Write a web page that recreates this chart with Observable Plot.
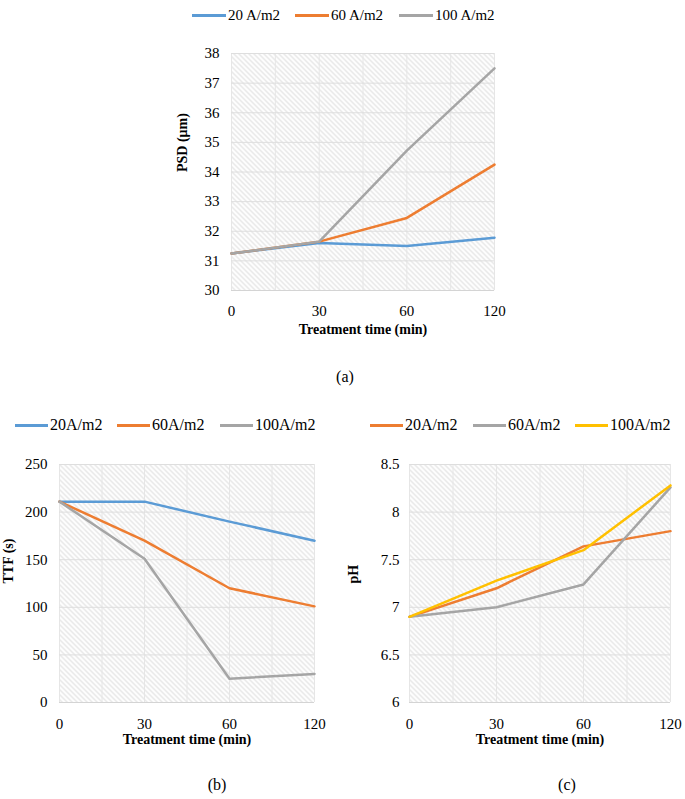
<!DOCTYPE html>
<html><head><meta charset="utf-8">
<script src="https://cdn.jsdelivr.net/npm/d3@7"></script>
<script src="https://cdn.jsdelivr.net/npm/@observablehq/plot@0.6"></script>
<style>
body{margin:0;background:#fff;}
#root{position:relative;width:685px;height:799px;font-family:"Liberation Serif","Times New Roman",serif;color:#000;overflow:hidden;}
.sw{position:absolute;height:3px;width:34px;}
.lt{position:absolute;line-height:16px;white-space:nowrap;}
.cap{position:absolute;font-size:16px;line-height:18px;transform:translateX(-50%);white-space:nowrap;}
</style></head><body><div id="root"></div>
<script>
// ---- data ----
const times = ["0", "30", "60", "120"];

const psdSeries = ["20 A/m2", "60 A/m2", "100 A/m2"];
const psd20 = [31.25, 31.6, 31.5, 31.78];
const psd60 = [31.25, 31.65, 32.45, 34.25];
const psd100 = [31.25, 31.65, 34.72, 37.5];
const psdTicks = [30, 31, 32, 33, 34, 35, 36, 37, 38];

const ttfSeries = ["20A/m2", "60A/m2", "100A/m2"];
const ttf20 = [211, 211, 190, 170];
const ttf60 = [211, 170, 120, 101];
const ttf100 = [211, 151, 25, 30];
const ttfTicks = [0, 50, 100, 150, 200, 250];

const phSeries = ["20A/m2", "60A/m2", "100A/m2"];
const ph20 = [6.9, 7.2, 7.64, 7.8];
const ph60 = [6.9, 7.0, 7.24, 8.26];
const ph100 = [6.9, 7.28, 7.6, 8.28];
const phTicks = [6, 6.5, 7, 7.5, 8, 8.5];

const colorsA = ["#5b9bd5", "#ed7d31", "#a5a5a5"];
const colorsB = ["#5b9bd5", "#ed7d31", "#a5a5a5"];
const colorsC = ["#ed7d31", "#a5a5a5", "#ffc000"];

const root = document.getElementById("root");

function rowsOf(series, arrays) {
  const rows = [];
  series.forEach((s, k) => arrays[k].forEach((v, i) => rows.push({s, i, v})));
  return rows;
}

function panel(cfg) {
  const rows = rowsOf(cfg.series, cfg.values);
  const gridXs = d3.range(0, 3.01, 0.5);
  const svg = Plot.plot({
    width: cfg.width, height: cfg.height,
    marginLeft: cfg.ml, marginRight: cfg.mr, marginTop: cfg.mt, marginBottom: cfg.mb,
    style: {fontFamily: '"Liberation Serif","Times New Roman",serif', fontSize: "15px", background: "transparent", overflow: "visible", color: "#000"},
    x: {domain: [0, 3]},
    y: {domain: cfg.yDomain},
    color: {domain: cfg.series, range: cfg.colors},
    marks: [
      Plot.frame({fill: "url(#hatch)", stroke: null}),
      Plot.gridX(gridXs, {stroke: "#e6e6e6", strokeOpacity: 1}),
      Plot.gridY(cfg.yTicks, {stroke: "#dedede", strokeOpacity: 1}),
      Plot.ruleY([cfg.yDomain[0]], {stroke: "#d4d4d4", strokeWidth: 1}),
      Plot.axisY(cfg.yTicks, {tickSize: 0, tickPadding: cfg.yPad, tickFormat: cfg.yFormat, label: null, fill: "#000"}),
      Plot.axisX([0, 1, 2, 3], {tickSize: 0, tickPadding: cfg.xPad, tickFormat: i => times[i], label: null, fill: "#000"}),
      Plot.text([cfg.xTitle], {frameAnchor: "bottom", dy: cfg.xTitleDy, fontWeight: "bold", fontSize: 14, fill: "#000"}),
      Plot.text([cfg.yTitle], {frameAnchor: "left", dx: -cfg.yTitleDx, rotate: -90, fontWeight: "bold", fontSize: 14, fill: "#000"}),
      Plot.line(rows, {x: "i", y: "v", z: "s", stroke: "s", strokeWidth: 2.5, strokeLinejoin: "round", strokeLinecap: "round"})
    ]
  });
  svg.style.position = "absolute";
  svg.style.left = cfg.left + "px";
  svg.style.top = cfg.top + "px";
  root.appendChild(svg);
  return svg;
}

function legend(items, fontSize) {
  items.forEach(it => {
    const sw = document.createElement("div");
    sw.className = "sw";
    sw.style.left = it.x + "px";
    sw.style.top = (it.y - 1.5) + "px";
    sw.style.width = it.w + "px";
    sw.style.background = it.color;
    root.appendChild(sw);
    const t = document.createElement("div");
    t.className = "lt";
    t.style.fontSize = fontSize + "px";
    t.style.left = (it.x + it.w + 2) + "px";
    t.style.top = (it.y - 8) + "px";
    t.textContent = it.label;
    root.appendChild(t);
  });
}

function caption(text, x, y) {
  const c = document.createElement("div");
  c.className = "cap";
  c.style.left = x + "px";
  c.style.top = (y - 9) + "px";
  c.textContent = text;
  root.appendChild(c);
}

// panel (a)
const svgA = panel({
  left: 160, top: 30, width: 360, height: 320, ml: 71, mr: 26, mt: 23, mb: 60,
  series: psdSeries, values: [psd20, psd60, psd100], colors: colorsA,
  yDomain: [30, 38], yTicks: psdTicks, yFormat: d => String(d),
  yPad: 12, xPad: 15, xTitle: "Treatment time (min)", xTitleDy: 43,
  yTitle: "PSD (μm)", yTitleDx: 49
});

// hatch pattern
const defs = document.createElementNS("http://www.w3.org/2000/svg", "defs");
defs.innerHTML = '<pattern id="hatch" patternUnits="userSpaceOnUse" width="5" height="5">' +
  '<rect width="5" height="5" fill="#ffffff"/>' +
  '<path d="M0,0 L5,5 M-1,4 L1,6 M4,-1 L6,1" stroke="#dedede" stroke-width="1.1" fill="none"/></pattern>';
svgA.insertBefore(defs, svgA.firstChild);

// panel (b)
panel({
  left: 0, top: 440, width: 340, height: 330, ml: 59, mr: 26, mt: 24, mb: 68,
  series: ttfSeries, values: [ttf20, ttf60, ttf100], colors: colorsB,
  yDomain: [0, 250], yTicks: ttfTicks, yFormat: d => String(d),
  yPad: 12, xPad: 16, xTitle: "Treatment time (min)", xTitleDy: 41,
  yTitle: "TTF (s)", yTitleDx: 51
});

// panel (c)
panel({
  left: 340, top: 440, width: 345, height: 330, ml: 69, mr: 15, mt: 24, mb: 68,
  series: phSeries, values: [ph20, ph60, ph100], colors: colorsC,
  yDomain: [6, 8.5], yTicks: phTicks, yFormat: d => String(d),
  yPad: 10, xPad: 16, xTitle: "Treatment time (min)", xTitleDy: 41,
  yTitle: "pH", yTitleDx: 56
});

legend([
  {x: 192, y: 15, w: 34, color: colorsA[0], label: psdSeries[0]},
  {x: 295, y: 15, w: 34, color: colorsA[1], label: psdSeries[1]},
  {x: 399, y: 15, w: 34, color: colorsA[2], label: psdSeries[2]}
], 15);
legend([
  {x: 15, y: 425, w: 33, color: colorsB[0], label: ttfSeries[0]},
  {x: 117, y: 425, w: 33, color: colorsB[1], label: ttfSeries[1]},
  {x: 220, y: 425, w: 33, color: colorsB[2], label: ttfSeries[2]},
  {x: 370, y: 425, w: 33, color: colorsC[0], label: phSeries[0]},
  {x: 473, y: 425, w: 33, color: colorsC[1], label: phSeries[1]},
  {x: 575, y: 425, w: 33, color: colorsC[2], label: phSeries[2]}
], 16);

caption("(a)", 345, 377);
caption("(b)", 217, 785);
caption("(c)", 567, 785);
</script></body></html>
